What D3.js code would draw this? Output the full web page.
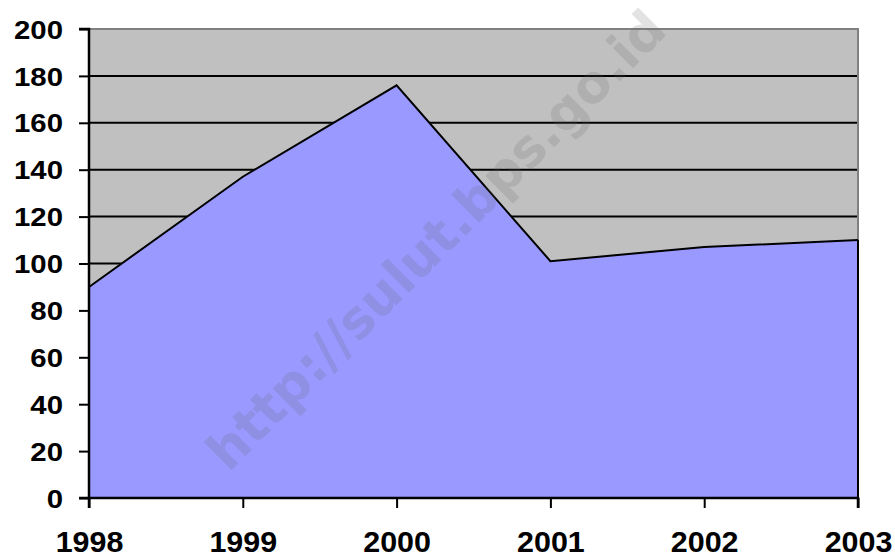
<!DOCTYPE html>
<html>
<head>
<meta charset="utf-8">
<script src="https://cdn.jsdelivr.net/npm/d3@7/dist/d3.min.js"></script>
<style>
html,body{margin:0;padding:0;background:#fff;}
svg{display:block;}
</style>
</head>
<body>
<svg id="chart" width="895" height="558"></svg>
<script>
const years = ["1998","1999","2000","2001","2002","2003"];
const values = [90, 137, 176, 101, 107, 110];
const yTicks = [0,20,40,60,80,100,120,140,160,180,200];
const watermark = "http://sulut.bps.go.id";

const svg = d3.select("#chart");
const margin = {left: 89, right: 37, top: 29, bottom: 60};
const W = 895, H = 558;
const x = d3.scalePoint().domain(years).range([margin.left, W - margin.right]);
const y = d3.scaleLinear().domain([0, 200]).range([H - margin.bottom, margin.top]);

const data = years.map((yr, i) => ({yr, v: values[i]}));

// plot background
svg.append("rect")
  .attr("x", x(years[0])).attr("y", y(200))
  .attr("width", x(years[years.length-1]) - x(years[0]))
  .attr("height", y(0) - y(200))
  .attr("fill", "#C0C0C0");

// gridlines
svg.append("g").selectAll("line").data(yTicks.filter(t => t > 0 && t < 200)).join("line")
  .attr("x1", x(years[0])).attr("x2", x(years[years.length-1]))
  .attr("y1", d => y(d)).attr("y2", d => y(d))
  .attr("stroke", "#000").attr("stroke-width", 2);

// plot border top/right
svg.append("path")
  .attr("d", `M${x(years[0])},${y(200)}H${x(years[years.length-1])}V${y(0)}`)
  .attr("fill", "none").attr("stroke", "#808080").attr("stroke-width", 2);

// area
const area = d3.area().x(d => x(d.yr)).y0(y(0)).y1(d => y(d.v));
svg.append("path").datum(data).attr("d", area).attr("fill", "#9999FF");
const line = d3.line().x(d => x(d.yr)).y(d => y(d.v));
svg.append("path").datum(data).attr("d", line)
  .attr("fill", "none").attr("stroke", "#000").attr("stroke-width", 2)
  .attr("stroke-linejoin", "miter");
// right edge of area
svg.append("line")
  .attr("x1", x(years[years.length-1])).attr("x2", x(years[years.length-1]))
  .attr("y1", y(values[values.length-1])).attr("y2", y(0))
  .attr("stroke", "#000").attr("stroke-width", 2);

// watermark
svg.append("text")
  .attr("transform", "translate(436,240) rotate(-45)")
  .attr("text-anchor", "middle").attr("dominant-baseline", "central")
  .attr("font-family", "DejaVu Sans").attr("font-weight", "bold")
  .attr("font-size", 52)
  .attr("fill", "rgba(100,100,100,0.18)")
  .text(watermark);

// axes
const yAxis = d3.axisLeft(y).tickValues(yTicks).tickSize(10);
const gy = svg.append("g").attr("transform", `translate(${margin.left},0)`).call(yAxis);
const xAxis = d3.axisBottom(x).tickSize(10);
const gx = svg.append("g").attr("transform", `translate(0,${y(0)})`).call(xAxis);

[gx, gy].forEach(g => {
  g.select(".domain").attr("stroke", "#000").attr("stroke-width", 2.5);
  g.selectAll(".tick line").attr("stroke", "#000").attr("stroke-width", 2);
  g.selectAll(".tick text")
    .attr("font-family", "Liberation Sans, Arial, sans-serif")
    .attr("font-weight", "bold").attr("fill", "#000");
});
gy.selectAll(".tick text")
  .attr("font-size", 26).attr("x", 0).attr("dy", "0.35em")
  .attr("transform", "translate(-26,0) scale(1.13,1)");
gx.selectAll(".tick text")
  .attr("font-size", 29).attr("y", 0).attr("dy", 0)
  .attr("transform", "translate(0,54) scale(1.05,1)");
gx.select(".domain").attr("d", `M${x(years[0])},10V0H${x(years[years.length-1])}V10`);
gy.select(".domain").attr("d", `M-10,${y(200)}H0V${y(0)}H-10`);
</script>
</body>
</html>
